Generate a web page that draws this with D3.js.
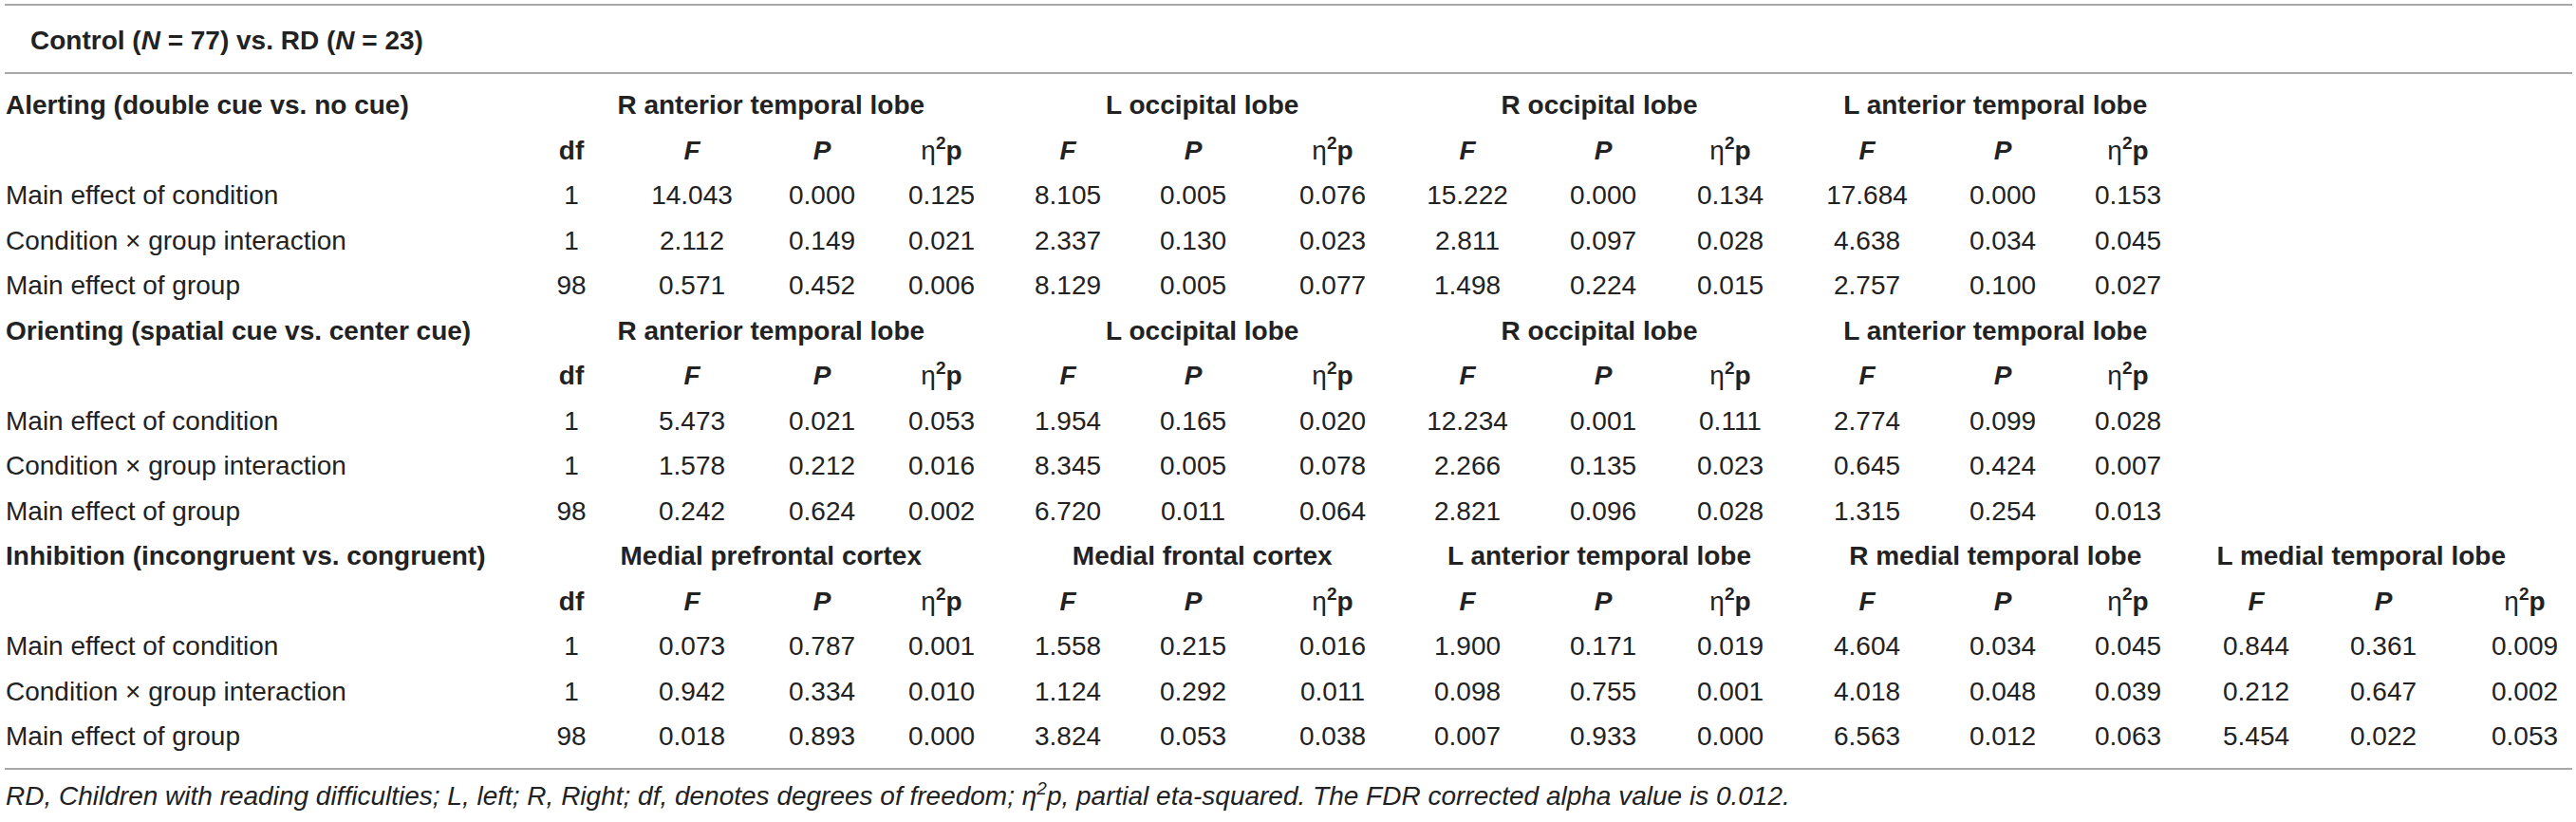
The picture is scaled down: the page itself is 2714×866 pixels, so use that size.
<!DOCTYPE html>
<html>
<head>
<meta charset="utf-8">
<script src="https://cdn.jsdelivr.net/npm/d3@7"></script>
<style>
  body { margin: 0; background: #fff; }
  text { font-family: "Liberation Sans", Arial, Helvetica, sans-serif; font-size: 28px; fill: #222; }
</style>
</head>
<body>
<svg id="chart"></svg>
<script>
// ---- data ----
var sections = [
  "Alerting (double cue vs. no cue)",
  "Orienting (spatial cue vs. center cue)",
  "Inhibition (incongruent vs. congruent)"
];
var alertingRegions = ["R anterior temporal lobe", "L occipital lobe", "R occipital lobe", "L anterior temporal lobe"];
var orientingRegions = ["R anterior temporal lobe", "L occipital lobe", "R occipital lobe", "L anterior temporal lobe"];
var inhibitionRegions = ["Medial prefrontal cortex", "Medial frontal cortex", "L anterior temporal lobe", "R medial temporal lobe", "L medial temporal lobe"];
var effects = ["Main effect of condition", "Condition \u00d7 group interaction", "Main effect of group"];
var dfValues = [1, 1, 98];
var stats = ["F", "P", "eta"];

// F, P, partial eta squared per region, one row per effect
var alertingValues = [
  [14.043, 0.000, 0.125, 8.105, 0.005, 0.076, 15.222, 0.000, 0.134, 17.684, 0.000, 0.153],
  [2.112, 0.149, 0.021, 2.337, 0.130, 0.023, 2.811, 0.097, 0.028, 4.638, 0.034, 0.045],
  [0.571, 0.452, 0.006, 8.129, 0.005, 0.077, 1.498, 0.224, 0.015, 2.757, 0.100, 0.027]
];
var orientingValues = [
  [5.473, 0.021, 0.053, 1.954, 0.165, 0.020, 12.234, 0.001, 0.111, 2.774, 0.099, 0.028],
  [1.578, 0.212, 0.016, 8.345, 0.005, 0.078, 2.266, 0.135, 0.023, 0.645, 0.424, 0.007],
  [0.242, 0.624, 0.002, 6.720, 0.011, 0.064, 2.821, 0.096, 0.028, 1.315, 0.254, 0.013]
];
var inhibitionValues = [
  [0.073, 0.787, 0.001, 1.558, 0.215, 0.016, 1.900, 0.171, 0.019, 4.604, 0.034, 0.045, 0.844, 0.361, 0.009],
  [0.942, 0.334, 0.010, 1.124, 0.292, 0.011, 0.098, 0.755, 0.001, 4.018, 0.048, 0.039, 0.212, 0.647, 0.002],
  [0.018, 0.893, 0.000, 3.824, 0.053, 0.038, 0.007, 0.933, 0.000, 6.563, 0.012, 0.063, 5.454, 0.022, 0.053]
];

var regionsBySection = [alertingRegions, orientingRegions, inhibitionRegions];
var valuesBySection = [alertingValues, orientingValues, inhibitionValues];

// ---- layout ----
var svgWidth = 2714, svgHeight = 866;
var svg = d3.select("#chart").attr("width", svgWidth).attr("height", svgHeight);

var colKeys = ["df"];
for (var g = 0; g < 5; g++) stats.forEach(function(s) { colKeys.push(s + g); });
var x = d3.scaleOrdinal()
  .domain(colKeys)
  .range([602, 729, 866, 992, 1125, 1257, 1404, 1546, 1689, 1823, 1967, 2110, 2242, 2377, 2511, 2660]);

// baseline of each table row (15 rows under the title)
var y = d3.scaleLinear().domain([0, 14]).range([120, 785]);
var fmt = d3.format(".3f");

function groupCenter(g) {
  var lo = g == 0 ? x("df") - 36 : (x("eta" + (g - 1)) + x("F" + g)) / 2;
  var hi = g == 4 ? x("eta4") + 6 : (x("eta" + g) + x("F" + (g + 1))) / 2;
  return (lo + hi) / 2;
}

function etaLabel(t) {
  t.append("tspan").attr("font-weight", "normal").text("\u03b7");
  t.append("tspan").attr("font-size", 19).attr("dy", -11).text("2");
  t.append("tspan").attr("dy", 11).text("p");
}

// rules
[5, 77, 810].forEach(function(ly) {
  svg.append("line")
    .attr("x1", 5).attr("x2", 2710)
    .attr("y1", ly).attr("y2", ly)
    .attr("stroke", "#a8a8a8")
    .attr("stroke-width", 2);
});

// title
var title = svg.append("text").attr("x", 32).attr("y", 52).attr("font-weight", "bold");
title.append("tspan").text("Control (");
title.append("tspan").attr("font-style", "italic").text("N");
title.append("tspan").text(" = 77) vs. RD (");
title.append("tspan").attr("font-style", "italic").text("N");
title.append("tspan").text(" = 23)");

sections.forEach(function(sec, si) {
  var base = si * 5;
  var regions = regionsBySection[si];
  var vals = valuesBySection[si];

  svg.append("text")
    .attr("x", 6).attr("y", y(base))
    .attr("font-weight", "bold")
    .text(sec);

  svg.selectAll(".region" + si)
    .data(regions)
    .enter().append("text")
    .attr("class", "region" + si)
    .attr("x", function(d, i) { return groupCenter(i); })
    .attr("y", y(base))
    .attr("text-anchor", "middle")
    .attr("font-weight", "bold")
    .text(function(d) { return d; });

  // sub header: df, F, P, eta2p
  svg.append("text")
    .attr("x", x("df")).attr("y", y(base + 1))
    .attr("text-anchor", "middle")
    .attr("font-weight", "bold")
    .text("df");

  regions.forEach(function(r, g) {
    stats.forEach(function(s) {
      var t = svg.append("text")
        .attr("x", x(s + g)).attr("y", y(base + 1))
        .attr("text-anchor", "middle")
        .attr("font-weight", "bold");
      if (s == "eta") etaLabel(t);
      else t.attr("font-style", "italic").text(s);
    });
  });

  effects.forEach(function(eff, ei) {
    var ry = y(base + 2 + ei);
    svg.append("text").attr("x", 6).attr("y", ry).text(eff);
    svg.append("text")
      .attr("x", x("df")).attr("y", ry)
      .attr("text-anchor", "middle")
      .text(dfValues[ei]);

    svg.selectAll(".v" + si + "_" + ei)
      .data(vals[ei])
      .enter().append("text")
      .attr("class", "v" + si + "_" + ei)
      .attr("x", function(d, i) { return x(stats[i % 3] + Math.floor(i / 3)); })
      .attr("y", ry)
      .attr("text-anchor", "middle")
      .text(function(d) { return fmt(d); });
  });
});

// footnote
var note = svg.append("text").attr("x", 6).attr("y", 848).attr("font-style", "italic");
note.append("tspan").text("RD, Children with reading difficulties; L, left; R, Right; df, denotes degrees of freedom; \u03b7");
note.append("tspan").attr("font-size", 19).attr("dy", -11).text("2");
note.append("tspan").attr("dy", 11).text("p, partial eta-squared. The FDR corrected alpha value is 0.012.");
</script>
</body>
</html>
